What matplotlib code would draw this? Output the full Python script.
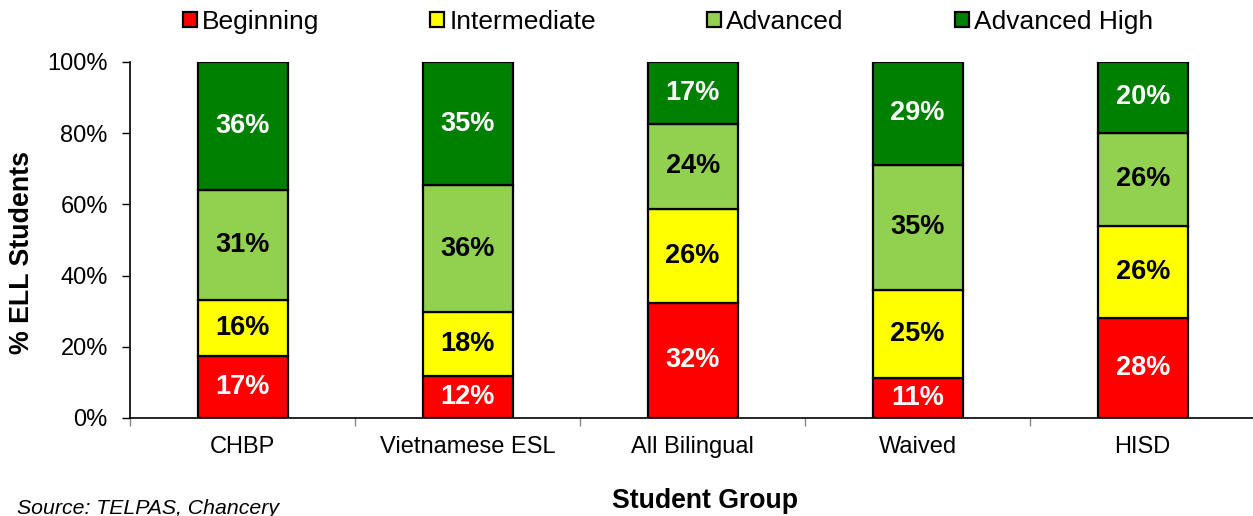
import numpy as np
import matplotlib
matplotlib.use('Agg')
import matplotlib.pyplot as plt
from matplotlib.ticker import FixedLocator, NullFormatter

plt.rcParams['font.family'] = ['Liberation Sans', 'DejaVu Sans']

groups = ['CHBP', 'Vietnamese ESL', 'All Bilingual', 'Waived', 'HISD']
levels = ['Beginning', 'Intermediate', 'Advanced', 'Advanced High']
beginning = [17.4, 11.8, 32.4, 11.2, 28.1]
intermediate = [15.7, 18.0, 26.3, 24.8, 25.8]
advanced = [30.9, 35.6, 23.9, 35.1, 26.2]
advanced_high = [36.0, 34.6, 17.4, 28.9, 19.9]
yticks = [0, 20, 40, 60, 80, 100]

colors = ['#FF0000', '#FFFF00', '#92D050', '#008000']
text_colors = ['white', 'black', 'black', 'white']

fig = plt.figure(figsize=(12.53, 5.16), dpi=100)
ax = fig.add_axes([130 / 1253, 98 / 516, 1123 / 1253, 356 / 516])

x = np.arange(len(groups))
bottom = np.zeros(len(groups))
for vals, name, c, tc in zip([beginning, intermediate, advanced, advanced_high], levels, colors, text_colors):
    vals = np.array(vals)
    ax.bar(x, vals, 0.4, bottom=bottom, color=c, edgecolor='black', linewidth=1.6, label=name, zorder=2)
    for xi, b, v in zip(x, bottom, vals):
        top = min(b + v, 100)
        ax.text(xi, (b + top) / 2, f"{round(v)}%", ha='center', va='center',
                color=tc, fontsize=19.5, fontweight='bold', zorder=3)
    bottom += vals

ax.set_xlim(-0.5, 4.49)
ax.set_ylim(0, 100)
ax.set_yticks(yticks)
ax.set_yticklabels([f"{t}%" for t in yticks], fontsize=17)
ax.tick_params(axis='y', length=6, width=1, pad=10)

# boundaries get the tick marks, centres get the labels
ax.xaxis.set_major_locator(FixedLocator(np.arange(-0.5, 4.6, 1.0)))
ax.xaxis.set_major_formatter(NullFormatter())
ax.xaxis.set_minor_locator(FixedLocator(x))
ax.set_xticklabels(groups, minor=True, fontsize=17)
ax.tick_params(axis='x', which='major', length=6, width=1, color='#888888')
ax.tick_params(axis='x', which='minor', length=0, pad=13)

for s in ['top', 'right']:
    ax.spines[s].set_visible(False)
for s in ['left', 'bottom']:
    ax.spines[s].set_linewidth(1.2)

leg = ax.legend(loc='center', bbox_to_anchor=(668 / 1253, 1 - 22 / 516),
                bbox_transform=fig.transFigure, ncol=4, frameon=False, fontsize=19,
                handlelength=0.53, handleheight=0.53, handletextpad=0.2,
                columnspacing=4.2, borderpad=0)

fig.text(22 / 1253, 1 - 253 / 516, '% ELL Students', rotation=90, ha='center', va='center',
         fontsize=19.3, fontweight='bold')
fig.text(705 / 1253, 1 - 501 / 516, 'Student Group', ha='center', va='center',
         fontsize=19.2, fontweight='bold')
fig.text(17 / 1253, 1 - 508 / 516, 'Source: TELPAS, Chancery', ha='left', va='center',
         fontsize=15.3, fontstyle='italic')

fig.savefig('out.png', dpi=100)
